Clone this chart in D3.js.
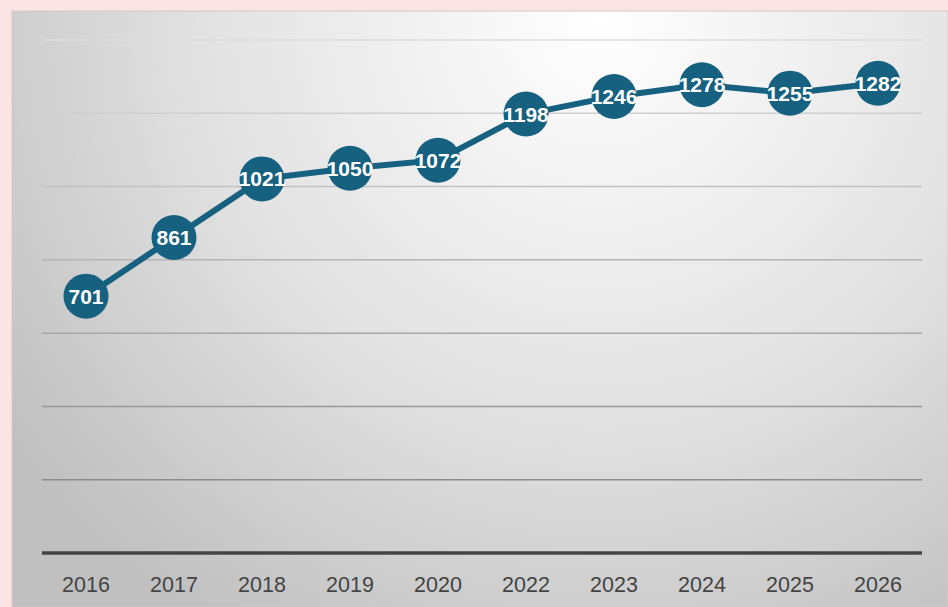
<!DOCTYPE html>
<html>
<head>
<meta charset="utf-8">
<script src="https://cdn.jsdelivr.net/npm/d3@7"></script>
<style>
  html, body { margin: 0; padding: 0; background: #fde4e4; }
  svg { display: block; }
</style>
</head>
<body>
<script>
// chart data
const years = ["2016", "2017", "2018", "2019", "2020", "2022", "2023", "2024", "2025", "2026"];
const values = [701, 861, 1021, 1050, 1072, 1198, 1246, 1278, 1255, 1282];
const yTicks = [200, 400, 600, 800, 1000, 1200, 1400];

const W = 948, H = 607;
const svg = d3.select("body").append("svg").attr("width", W).attr("height", H);

// panel background with radial gradient
const defs = svg.append("defs");
const grad = defs.append("radialGradient")
  .attr("id", "bg")
  .attr("gradientUnits", "userSpaceOnUse")
  .attr("cx", 600).attr("cy", 20).attr("r", 720);
grad.append("stop").attr("offset", "0%").attr("stop-color", "#ffffff");
grad.append("stop").attr("offset", "55%").attr("stop-color", "#e2e2e2");
grad.append("stop").attr("offset", "100%").attr("stop-color", "#c0c0c0");

svg.append("rect")
  .attr("x", 12).attr("y", 11)
  .attr("width", W - 12).attr("height", H - 11)
  .attr("fill", "url(#bg)")
  .attr("stroke", "#d8c8c8")
  .attr("stroke-width", 1);

// scales
const x = d3.scalePoint().domain(years).range([42, 922]).padding(0.5);
const y = d3.scaleLinear().domain([0, 1400]).range([553, 40]);
const gridColor = d3.scaleLinear().domain([1400, 200]).range(["#dcdcdc", "#8c8c8c"]);

// gridlines
svg.append("g")
  .selectAll("line")
  .data(yTicks)
  .join("line")
  .attr("x1", 42).attr("x2", 922)
  .attr("y1", d => y(d)).attr("y2", d => y(d))
  .attr("stroke", d => gridColor(d))
  .attr("stroke-width", 1.5);

// baseline
svg.append("line")
  .attr("x1", 42).attr("x2", 922)
  .attr("y1", y(0)).attr("y2", y(0))
  .attr("stroke", "#444")
  .attr("stroke-width", 3.5);

// x axis labels
svg.append("g")
  .selectAll("text")
  .data(years)
  .join("text")
  .attr("x", d => x(d))
  .attr("y", 592)
  .attr("text-anchor", "middle")
  .attr("font-family", "'Liberation Sans', Arial, sans-serif")
  .attr("font-size", 21.5)
  .attr("fill", "#444")
  .text(d => d);

// line
const line = d3.line()
  .x((d, i) => x(years[i]))
  .y(d => y(d));

svg.append("path")
  .datum(values)
  .attr("d", line)
  .attr("fill", "none")
  .attr("stroke", "#176180")
  .attr("stroke-width", 6);

// points
svg.append("g")
  .selectAll("circle")
  .data(values)
  .join("circle")
  .attr("cx", (d, i) => x(years[i]))
  .attr("cy", d => y(d))
  .attr("r", 22.5)
  .attr("fill", "#176180");

// value labels
svg.append("g")
  .selectAll("text")
  .data(values)
  .join("text")
  .attr("x", (d, i) => x(years[i]))
  .attr("y", d => y(d))
  .attr("dy", "0.36em")
  .attr("text-anchor", "middle")
  .attr("font-family", "'Liberation Sans', Arial, sans-serif")
  .attr("font-weight", "bold")
  .attr("font-size", 21)
  .attr("fill", "#fff")
  .text(d => d);
</script>
</body>
</html>
